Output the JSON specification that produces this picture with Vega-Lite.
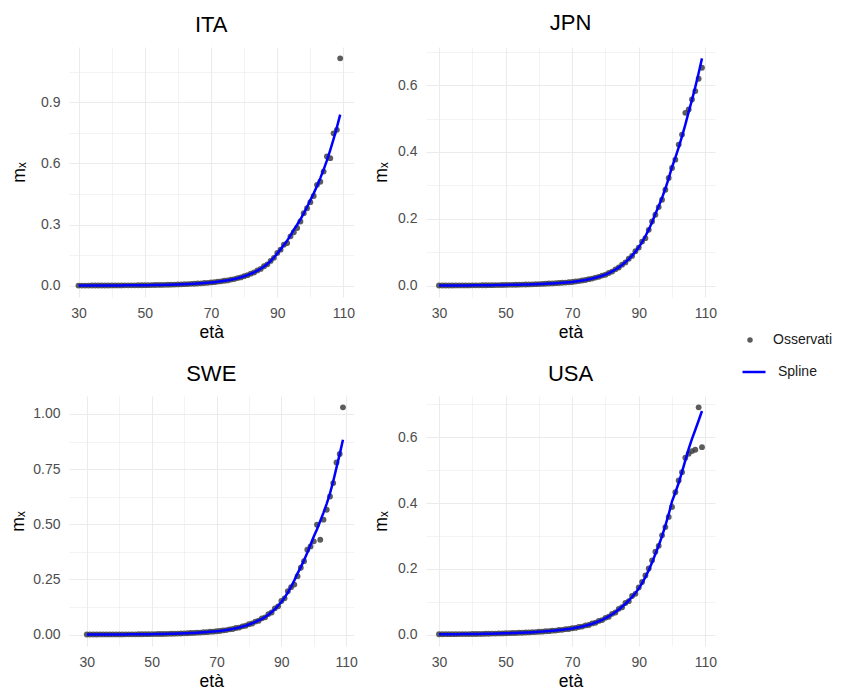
{
  "$schema": "https://vega.github.io/schema/vega-lite/v6.json",
  "padding": {"left": 9, "top": 11, "right": 5, "bottom": 0},
  "data": {"values": [
    {"paese":"ITA","eta":30,"osservati":0.00042,"spline":0.0004},
    {"paese":"ITA","eta":31,"osservati":0.0004,"spline":0.00042},
    {"paese":"ITA","eta":32,"osservati":0.00046,"spline":0.00045},
    {"paese":"ITA","eta":33,"osservati":0.00047,"spline":0.00048},
    {"paese":"ITA","eta":34,"osservati":0.00053,"spline":0.00052},
    {"paese":"ITA","eta":35,"osservati":0.00055,"spline":0.00056},
    {"paese":"ITA","eta":36,"osservati":0.00062,"spline":0.0006},
    {"paese":"ITA","eta":37,"osservati":0.00065,"spline":0.00066},
    {"paese":"ITA","eta":38,"osservati":0.00073,"spline":0.00072},
    {"paese":"ITA","eta":39,"osservati":0.00079,"spline":0.0008},
    {"paese":"ITA","eta":40,"osservati":0.0009,"spline":0.00088},
    {"paese":"ITA","eta":41,"osservati":0.00095,"spline":0.00097},
    {"paese":"ITA","eta":42,"osservati":0.00109,"spline":0.00107},
    {"paese":"ITA","eta":43,"osservati":0.00116,"spline":0.00118},
    {"paese":"ITA","eta":44,"osservati":0.00132,"spline":0.0013},
    {"paese":"ITA","eta":45,"osservati":0.00141,"spline":0.00143},
    {"paese":"ITA","eta":46,"osservati":0.0016,"spline":0.00157},
    {"paese":"ITA","eta":47,"osservati":0.0017,"spline":0.00173},
    {"paese":"ITA","eta":48,"osservati":0.00193,"spline":0.0019},
    {"paese":"ITA","eta":49,"osservati":0.00207,"spline":0.0021},
    {"paese":"ITA","eta":50,"osservati":0.00233,"spline":0.0023},
    {"paese":"ITA","eta":51,"osservati":0.00247,"spline":0.0025},
    {"paese":"ITA","eta":52,"osservati":0.00283,"spline":0.0028},
    {"paese":"ITA","eta":53,"osservati":0.00297,"spline":0.003},
    {"paese":"ITA","eta":54,"osservati":0.00335,"spline":0.0033},
    {"paese":"ITA","eta":55,"osservati":0.00356,"spline":0.0036},
    {"paese":"ITA","eta":56,"osservati":0.00405,"spline":0.004},
    {"paese":"ITA","eta":57,"osservati":0.00435,"spline":0.0044},
    {"paese":"ITA","eta":58,"osservati":0.00486,"spline":0.0048},
    {"paese":"ITA","eta":59,"osservati":0.00524,"spline":0.0053},
    {"paese":"ITA","eta":60,"osservati":0.00588,"spline":0.0058},
    {"paese":"ITA","eta":61,"osservati":0.00632,"spline":0.0064},
    {"paese":"ITA","eta":62,"osservati":0.0072,"spline":0.0071},
    {"paese":"ITA","eta":63,"osservati":0.00771,"spline":0.0078},
    {"paese":"ITA","eta":64,"osservati":0.00871,"spline":0.0086},
    {"paese":"ITA","eta":65,"osservati":0.00938,"spline":0.0095},
    {"paese":"ITA","eta":66,"osservati":0.01064,"spline":0.0105},
    {"paese":"ITA","eta":67,"osservati":0.01136,"spline":0.0115},
    {"paese":"ITA","eta":68,"osservati":0.01287,"spline":0.0127},
    {"paese":"ITA","eta":69,"osservati":0.01383,"spline":0.014},
    {"paese":"ITA","eta":70,"osservati":0.01571,"spline":0.0155},
    {"paese":"ITA","eta":71,"osservati":0.01699,"spline":0.0172},
    {"paese":"ITA","eta":72,"osservati":0.01936,"spline":0.0191},
    {"paese":"ITA","eta":73,"osservati":0.02096,"spline":0.0212},
    {"paese":"ITA","eta":74,"osservati":0.02382,"spline":0.0235},
    {"paese":"ITA","eta":75,"osservati":0.02571,"spline":0.026},
    {"paese":"ITA","eta":76,"osservati":0.02956,"spline":0.0292},
    {"paese":"ITA","eta":77,"osservati":0.03235,"spline":0.0327},
    {"paese":"ITA","eta":78,"osservati":0.03705,"spline":0.0366},
    {"paese":"ITA","eta":79,"osservati":0.04056,"spline":0.041},
    {"paese":"ITA","eta":80,"osservati":0.04652,"spline":0.046},
    {"paese":"ITA","eta":81,"osservati":0.05125,"spline":0.0518},
    {"paese":"ITA","eta":82,"osservati":0.05895,"spline":0.0583},
    {"paese":"ITA","eta":83,"osservati":0.06497,"spline":0.0656},
    {"paese":"ITA","eta":84,"osservati":0.07465,"spline":0.0738},
    {"paese":"ITA","eta":85,"osservati":0.0821,"spline":0.083},
    {"paese":"ITA","eta":86,"osservati":0.0951,"spline":0.094},
    {"paese":"ITA","eta":87,"osservati":0.1048,"spline":0.106},
    {"paese":"ITA","eta":88,"osservati":0.1214,"spline":0.12},
    {"paese":"ITA","eta":89,"osservati":0.1365,"spline":0.138},
    {"paese":"ITA","eta":90,"osservati":0.1602,"spline":0.158},
    {"paese":"ITA","eta":91,"osservati":0.1765,"spline":0.178},
    {"paese":"ITA","eta":92,"osservati":0.2012,"spline":0.199},
    {"paese":"ITA","eta":93,"osservati":0.209,"spline":0.221},
    {"paese":"ITA","eta":94,"osservati":0.242,"spline":0.247},
    {"paese":"ITA","eta":95,"osservati":0.262,"spline":0.275},
    {"paese":"ITA","eta":96,"osservati":0.283,"spline":0.299},
    {"paese":"ITA","eta":97,"osservati":0.315,"spline":0.326},
    {"paese":"ITA","eta":98,"osservati":0.356,"spline":0.355},
    {"paese":"ITA","eta":99,"osservati":0.38,"spline":0.386},
    {"paese":"ITA","eta":100,"osservati":0.41,"spline":0.42},
    {"paese":"ITA","eta":101,"osservati":0.44,"spline":0.453},
    {"paese":"ITA","eta":102,"osservati":0.495,"spline":0.489},
    {"paese":"ITA","eta":103,"osservati":0.51,"spline":0.528},
    {"paese":"ITA","eta":104,"osservati":0.56,"spline":0.57},
    {"paese":"ITA","eta":105,"osservati":0.634,"spline":0.615},
    {"paese":"ITA","eta":106,"osservati":0.626,"spline":0.665},
    {"paese":"ITA","eta":107,"osservati":0.748,"spline":0.719},
    {"paese":"ITA","eta":108,"osservati":0.765,"spline":0.777},
    {"paese":"ITA","eta":109,"osservati":1.116,"spline":0.84},
    {"paese":"JPN","eta":30,"osservati":0.00041,"spline":0.0004},
    {"paese":"JPN","eta":31,"osservati":0.00044,"spline":0.00043},
    {"paese":"JPN","eta":32,"osservati":0.00045,"spline":0.00046},
    {"paese":"JPN","eta":33,"osservati":0.0005,"spline":0.00049},
    {"paese":"JPN","eta":34,"osservati":0.00052,"spline":0.00053},
    {"paese":"JPN","eta":35,"osservati":0.00058,"spline":0.00057},
    {"paese":"JPN","eta":36,"osservati":0.0006,"spline":0.00061},
    {"paese":"JPN","eta":37,"osservati":0.00066,"spline":0.00065},
    {"paese":"JPN","eta":38,"osservati":0.00069,"spline":0.0007},
    {"paese":"JPN","eta":39,"osservati":0.00076,"spline":0.00075},
    {"paese":"JPN","eta":40,"osservati":0.00079,"spline":0.0008},
    {"paese":"JPN","eta":41,"osservati":0.00089,"spline":0.00088},
    {"paese":"JPN","eta":42,"osservati":0.00096,"spline":0.00097},
    {"paese":"JPN","eta":43,"osservati":0.00108,"spline":0.00107},
    {"paese":"JPN","eta":44,"osservati":0.00117,"spline":0.00118},
    {"paese":"JPN","eta":45,"osservati":0.00132,"spline":0.0013},
    {"paese":"JPN","eta":46,"osservati":0.00141,"spline":0.00143},
    {"paese":"JPN","eta":47,"osservati":0.00159,"spline":0.00157},
    {"paese":"JPN","eta":48,"osservati":0.00171,"spline":0.00173},
    {"paese":"JPN","eta":49,"osservati":0.00192,"spline":0.0019},
    {"paese":"JPN","eta":50,"osservati":0.00208,"spline":0.0021},
    {"paese":"JPN","eta":51,"osservati":0.00233,"spline":0.0023},
    {"paese":"JPN","eta":52,"osservati":0.00247,"spline":0.0025},
    {"paese":"JPN","eta":53,"osservati":0.00274,"spline":0.0027},
    {"paese":"JPN","eta":54,"osservati":0.00287,"spline":0.0029},
    {"paese":"JPN","eta":55,"osservati":0.00325,"spline":0.0032},
    {"paese":"JPN","eta":56,"osservati":0.00336,"spline":0.0034},
    {"paese":"JPN","eta":57,"osservati":0.00375,"spline":0.0037},
    {"paese":"JPN","eta":58,"osservati":0.00396,"spline":0.004},
    {"paese":"JPN","eta":59,"osservati":0.00446,"spline":0.0044},
    {"paese":"JPN","eta":60,"osservati":0.00475,"spline":0.0048},
    {"paese":"JPN","eta":61,"osservati":0.00527,"spline":0.0052},
    {"paese":"JPN","eta":62,"osservati":0.00563,"spline":0.0057},
    {"paese":"JPN","eta":63,"osservati":0.00628,"spline":0.0062},
    {"paese":"JPN","eta":64,"osservati":0.00662,"spline":0.0067},
    {"paese":"JPN","eta":65,"osservati":0.0074,"spline":0.0073},
    {"paese":"JPN","eta":66,"osservati":0.00781,"spline":0.0079},
    {"paese":"JPN","eta":67,"osservati":0.00871,"spline":0.0086},
    {"paese":"JPN","eta":68,"osservati":0.00921,"spline":0.0093},
    {"paese":"JPN","eta":69,"osservati":0.01023,"spline":0.0101},
    {"paese":"JPN","eta":70,"osservati":0.01088,"spline":0.011},
    {"paese":"JPN","eta":71,"osservati":0.01245,"spline":0.0123},
    {"paese":"JPN","eta":72,"osservati":0.01355,"spline":0.0137},
    {"paese":"JPN","eta":73,"osservati":0.01548,"spline":0.0153},
    {"paese":"JPN","eta":74,"osservati":0.01683,"spline":0.017},
    {"paese":"JPN","eta":75,"osservati":0.01924,"spline":0.019},
    {"paese":"JPN","eta":76,"osservati":0.02098,"spline":0.0212},
    {"paese":"JPN","eta":77,"osservati":0.02398,"spline":0.0237},
    {"paese":"JPN","eta":78,"osservati":0.02623,"spline":0.0265},
    {"paese":"JPN","eta":79,"osservati":0.02996,"spline":0.0296},
    {"paese":"JPN","eta":80,"osservati":0.03267,"spline":0.033},
    {"paese":"JPN","eta":81,"osservati":0.03785,"spline":0.0374},
    {"paese":"JPN","eta":82,"osservati":0.04206,"spline":0.0425},
    {"paese":"JPN","eta":83,"osservati":0.04877,"spline":0.0482},
    {"paese":"JPN","eta":84,"osservati":0.05415,"spline":0.0547},
    {"paese":"JPN","eta":85,"osservati":0.06274,"spline":0.062},
    {"paese":"JPN","eta":86,"osservati":0.06952,"spline":0.0702},
    {"paese":"JPN","eta":87,"osservati":0.08035,"spline":0.0794},
    {"paese":"JPN","eta":88,"osservati":0.08893,"spline":0.0898},
    {"paese":"JPN","eta":89,"osservati":0.1028,"spline":0.1016},
    {"paese":"JPN","eta":90,"osservati":0.1138,"spline":0.115},
    {"paese":"JPN","eta":91,"osservati":0.1318,"spline":0.1303},
    {"paese":"JPN","eta":92,"osservati":0.142,"spline":0.1477},
    {"paese":"JPN","eta":93,"osservati":0.167,"spline":0.1674},
    {"paese":"JPN","eta":94,"osservati":0.192,"spline":0.1897},
    {"paese":"JPN","eta":95,"osservati":0.212,"spline":0.215},
    {"paese":"JPN","eta":96,"osservati":0.235,"spline":0.2377},
    {"paese":"JPN","eta":97,"osservati":0.257,"spline":0.2628},
    {"paese":"JPN","eta":98,"osservati":0.287,"spline":0.2905},
    {"paese":"JPN","eta":99,"osservati":0.322,"spline":0.3211},
    {"paese":"JPN","eta":100,"osservati":0.352,"spline":0.355},
    {"paese":"JPN","eta":101,"osservati":0.377,"spline":0.383},
    {"paese":"JPN","eta":102,"osservati":0.422,"spline":0.4135},
    {"paese":"JPN","eta":103,"osservati":0.452,"spline":0.4464},
    {"paese":"JPN","eta":104,"osservati":0.517,"spline":0.4818},
    {"paese":"JPN","eta":105,"osservati":0.527,"spline":0.52},
    {"paese":"JPN","eta":106,"osservati":0.557,"spline":0.556},
    {"paese":"JPN","eta":107,"osservati":0.582,"spline":0.5947},
    {"paese":"JPN","eta":108,"osservati":0.619,"spline":0.636},
    {"paese":"JPN","eta":109,"osservati":0.652,"spline":0.68},
    {"paese":"SWE","eta":30,"osservati":0.00072,"spline":0.0007},
    {"paese":"SWE","eta":31,"osservati":0.00071,"spline":0.00073},
    {"paese":"SWE","eta":32,"osservati":0.00077,"spline":0.00075},
    {"paese":"SWE","eta":33,"osservati":0.00076,"spline":0.00078},
    {"paese":"SWE","eta":34,"osservati":0.00084,"spline":0.00081},
    {"paese":"SWE","eta":35,"osservati":0.00082,"spline":0.00084},
    {"paese":"SWE","eta":36,"osservati":0.0009,"spline":0.00087},
    {"paese":"SWE","eta":37,"osservati":0.00088,"spline":0.0009},
    {"paese":"SWE","eta":38,"osservati":0.00096,"spline":0.00093},
    {"paese":"SWE","eta":39,"osservati":0.00095,"spline":0.00097},
    {"paese":"SWE","eta":40,"osservati":0.00103,"spline":0.001},
    {"paese":"SWE","eta":41,"osservati":0.00106,"spline":0.00109},
    {"paese":"SWE","eta":42,"osservati":0.00122,"spline":0.00118},
    {"paese":"SWE","eta":43,"osservati":0.00125,"spline":0.00128},
    {"paese":"SWE","eta":44,"osservati":0.00143,"spline":0.00139},
    {"paese":"SWE","eta":45,"osservati":0.00148,"spline":0.00152},
    {"paese":"SWE","eta":46,"osservati":0.0017,"spline":0.00165},
    {"paese":"SWE","eta":47,"osservati":0.00175,"spline":0.00179},
    {"paese":"SWE","eta":48,"osservati":0.002,"spline":0.00195},
    {"paese":"SWE","eta":49,"osservati":0.00207,"spline":0.00212},
    {"paese":"SWE","eta":50,"osservati":0.00237,"spline":0.0023},
    {"paese":"SWE","eta":51,"osservati":0.00244,"spline":0.0025},
    {"paese":"SWE","eta":52,"osservati":0.00288,"spline":0.0028},
    {"paese":"SWE","eta":53,"osservati":0.00294,"spline":0.003},
    {"paese":"SWE","eta":54,"osservati":0.0034,"spline":0.0033},
    {"paese":"SWE","eta":55,"osservati":0.00362,"spline":0.0037},
    {"paese":"SWE","eta":56,"osservati":0.00412,"spline":0.004},
    {"paese":"SWE","eta":57,"osservati":0.00431,"spline":0.0044},
    {"paese":"SWE","eta":58,"osservati":0.00494,"spline":0.0048},
    {"paese":"SWE","eta":59,"osservati":0.00519,"spline":0.0053},
    {"paese":"SWE","eta":60,"osservati":0.00597,"spline":0.0058},
    {"paese":"SWE","eta":61,"osservati":0.00627,"spline":0.0064},
    {"paese":"SWE","eta":62,"osservati":0.00731,"spline":0.0071},
    {"paese":"SWE","eta":63,"osservati":0.00764,"spline":0.0078},
    {"paese":"SWE","eta":64,"osservati":0.00886,"spline":0.0086},
    {"paese":"SWE","eta":65,"osservati":0.00931,"spline":0.0095},
    {"paese":"SWE","eta":66,"osservati":0.01082,"spline":0.0105},
    {"paese":"SWE","eta":67,"osservati":0.01127,"spline":0.0115},
    {"paese":"SWE","eta":68,"osservati":0.01308,"spline":0.0127},
    {"paese":"SWE","eta":69,"osservati":0.01343,"spline":0.0137},
    {"paese":"SWE","eta":70,"osservati":0.01545,"spline":0.015},
    {"paese":"SWE","eta":71,"osservati":0.01637,"spline":0.0167},
    {"paese":"SWE","eta":72,"osservati":0.01916,"spline":0.0186},
    {"paese":"SWE","eta":73,"osservati":0.02048,"spline":0.0209},
    {"paese":"SWE","eta":74,"osservati":0.024,"spline":0.0233},
    {"paese":"SWE","eta":75,"osservati":0.02548,"spline":0.026},
    {"paese":"SWE","eta":76,"osservati":0.03008,"spline":0.0292},
    {"paese":"SWE","eta":77,"osservati":0.03205,"spline":0.0327},
    {"paese":"SWE","eta":78,"osservati":0.0377,"spline":0.0366},
    {"paese":"SWE","eta":79,"osservati":0.04018,"spline":0.041},
    {"paese":"SWE","eta":80,"osservati":0.04738,"spline":0.046},
    {"paese":"SWE","eta":81,"osservati":0.05037,"spline":0.0514},
    {"paese":"SWE","eta":82,"osservati":0.05912,"spline":0.0574},
    {"paese":"SWE","eta":83,"osservati":0.06282,"spline":0.0641},
    {"paese":"SWE","eta":84,"osservati":0.07375,"spline":0.0716},
    {"paese":"SWE","eta":85,"osservati":0.0784,"spline":0.08},
    {"paese":"SWE","eta":86,"osservati":0.0932,"spline":0.0905},
    {"paese":"SWE","eta":87,"osservati":0.1003,"spline":0.1024},
    {"paese":"SWE","eta":88,"osservati":0.1193,"spline":0.1158},
    {"paese":"SWE","eta":89,"osservati":0.1284,"spline":0.131},
    {"paese":"SWE","eta":90,"osservati":0.1524,"spline":0.148},
    {"paese":"SWE","eta":91,"osservati":0.1646,"spline":0.168},
    {"paese":"SWE","eta":92,"osservati":0.1967,"spline":0.191},
    {"paese":"SWE","eta":93,"osservati":0.215,"spline":0.217},
    {"paese":"SWE","eta":94,"osservati":0.227,"spline":0.246},
    {"paese":"SWE","eta":95,"osservati":0.265,"spline":0.278},
    {"paese":"SWE","eta":96,"osservati":0.303,"spline":0.306},
    {"paese":"SWE","eta":97,"osservati":0.333,"spline":0.337},
    {"paese":"SWE","eta":98,"osservati":0.385,"spline":0.371},
    {"paese":"SWE","eta":99,"osservati":0.4,"spline":0.407},
    {"paese":"SWE","eta":100,"osservati":0.423,"spline":0.445},
    {"paese":"SWE","eta":101,"osservati":0.498,"spline":0.478},
    {"paese":"SWE","eta":102,"osservati":0.43,"spline":0.515},
    {"paese":"SWE","eta":103,"osservati":0.521,"spline":0.553},
    {"paese":"SWE","eta":104,"osservati":0.566,"spline":0.594},
    {"paese":"SWE","eta":105,"osservati":0.626,"spline":0.64},
    {"paese":"SWE","eta":106,"osservati":0.687,"spline":0.695},
    {"paese":"SWE","eta":107,"osservati":0.78,"spline":0.757},
    {"paese":"SWE","eta":108,"osservati":0.819,"spline":0.818},
    {"paese":"SWE","eta":109,"osservati":1.03,"spline":0.883},
    {"paese":"USA","eta":30,"osservati":0.00125,"spline":0.0012},
    {"paese":"USA","eta":31,"osservati":0.00123,"spline":0.00126},
    {"paese":"USA","eta":32,"osservati":0.00136,"spline":0.00132},
    {"paese":"USA","eta":33,"osservati":0.00135,"spline":0.00138},
    {"paese":"USA","eta":34,"osservati":0.00148,"spline":0.00144},
    {"paese":"USA","eta":35,"osservati":0.00148,"spline":0.00151},
    {"paese":"USA","eta":36,"osservati":0.00162,"spline":0.00158},
    {"paese":"USA","eta":37,"osservati":0.00163,"spline":0.00166},
    {"paese":"USA","eta":38,"osservati":0.00177,"spline":0.00173},
    {"paese":"USA","eta":39,"osservati":0.00179,"spline":0.00182},
    {"paese":"USA","eta":40,"osservati":0.00195,"spline":0.0019},
    {"paese":"USA","eta":41,"osservati":0.00202,"spline":0.00206},
    {"paese":"USA","eta":42,"osservati":0.00229,"spline":0.00223},
    {"paese":"USA","eta":43,"osservati":0.00236,"spline":0.00241},
    {"paese":"USA","eta":44,"osservati":0.00268,"spline":0.00261},
    {"paese":"USA","eta":45,"osservati":0.00277,"spline":0.00283},
    {"paese":"USA","eta":46,"osservati":0.00314,"spline":0.00306},
    {"paese":"USA","eta":47,"osservati":0.00326,"spline":0.00332},
    {"paese":"USA","eta":48,"osservati":0.00368,"spline":0.00359},
    {"paese":"USA","eta":49,"osservati":0.00382,"spline":0.00389},
    {"paese":"USA","eta":50,"osservati":0.0043,"spline":0.0042},
    {"paese":"USA","eta":51,"osservati":0.0044,"spline":0.0045},
    {"paese":"USA","eta":52,"osservati":0.00492,"spline":0.0048},
    {"paese":"USA","eta":53,"osservati":0.0051,"spline":0.0052},
    {"paese":"USA","eta":54,"osservati":0.00574,"spline":0.0056},
    {"paese":"USA","eta":55,"osservati":0.00588,"spline":0.006},
    {"paese":"USA","eta":56,"osservati":0.00656,"spline":0.0064},
    {"paese":"USA","eta":57,"osservati":0.00677,"spline":0.0069},
    {"paese":"USA","eta":58,"osservati":0.00758,"spline":0.0074},
    {"paese":"USA","eta":59,"osservati":0.00775,"spline":0.0079},
    {"paese":"USA","eta":60,"osservati":0.00871,"spline":0.0085},
    {"paese":"USA","eta":61,"osservati":0.00902,"spline":0.0092},
    {"paese":"USA","eta":62,"osservati":0.01025,"spline":0.01},
    {"paese":"USA","eta":63,"osservati":0.01059,"spline":0.0108},
    {"paese":"USA","eta":64,"osservati":0.01199,"spline":0.0117},
    {"paese":"USA","eta":65,"osservati":0.01245,"spline":0.0127},
    {"paese":"USA","eta":66,"osservati":0.01414,"spline":0.0138},
    {"paese":"USA","eta":67,"osservati":0.01461,"spline":0.0149},
    {"paese":"USA","eta":68,"osservati":0.0166,"spline":0.0162},
    {"paese":"USA","eta":69,"osservati":0.01715,"spline":0.0175},
    {"paese":"USA","eta":70,"osservati":0.01947,"spline":0.019},
    {"paese":"USA","eta":71,"osservati":0.02038,"spline":0.0208},
    {"paese":"USA","eta":72,"osservati":0.02337,"spline":0.0228},
    {"paese":"USA","eta":73,"osservati":0.0245,"spline":0.025},
    {"paese":"USA","eta":74,"osservati":0.02808,"spline":0.0274},
    {"paese":"USA","eta":75,"osservati":0.0294,"spline":0.03},
    {"paese":"USA","eta":76,"osservati":0.03403,"spline":0.0332},
    {"paese":"USA","eta":77,"osservati":0.03606,"spline":0.0368},
    {"paese":"USA","eta":78,"osservati":0.04182,"spline":0.0408},
    {"paese":"USA","eta":79,"osservati":0.0442,"spline":0.0451},
    {"paese":"USA","eta":80,"osservati":0.05125,"spline":0.05},
    {"paese":"USA","eta":81,"osservati":0.05449,"spline":0.0556},
    {"paese":"USA","eta":82,"osservati":0.06334,"spline":0.0618},
    {"paese":"USA","eta":83,"osservati":0.06742,"spline":0.0688},
    {"paese":"USA","eta":84,"osservati":0.07841,"spline":0.0765},
    {"paese":"USA","eta":85,"osservati":0.0833,"spline":0.085},
    {"paese":"USA","eta":86,"osservati":0.09625,"spline":0.0939},
    {"paese":"USA","eta":87,"osservati":0.1017,"spline":0.1038},
    {"paese":"USA","eta":88,"osservati":0.1176,"spline":0.1147},
    {"paese":"USA","eta":89,"osservati":0.1242,"spline":0.1267},
    {"paese":"USA","eta":90,"osservati":0.1435,"spline":0.14},
    {"paese":"USA","eta":91,"osservati":0.16,"spline":0.1566},
    {"paese":"USA","eta":92,"osservati":0.18,"spline":0.1751},
    {"paese":"USA","eta":93,"osservati":0.201,"spline":0.1959},
    {"paese":"USA","eta":94,"osservati":0.226,"spline":0.219},
    {"paese":"USA","eta":95,"osservati":0.252,"spline":0.245},
    {"paese":"USA","eta":96,"osservati":0.27,"spline":0.2709},
    {"paese":"USA","eta":97,"osservati":0.302,"spline":0.2995},
    {"paese":"USA","eta":98,"osservati":0.327,"spline":0.3312},
    {"paese":"USA","eta":99,"osservati":0.358,"spline":0.3662},
    {"paese":"USA","eta":100,"osservati":0.388,"spline":0.405},
    {"paese":"USA","eta":101,"osservati":0.433,"spline":0.4321},
    {"paese":"USA","eta":102,"osservati":0.469,"spline":0.461},
    {"paese":"USA","eta":103,"osservati":0.494,"spline":0.495},
    {"paese":"USA","eta":104,"osservati":0.538,"spline":0.53},
    {"paese":"USA","eta":105,"osservati":0.55,"spline":0.565},
    {"paese":"USA","eta":106,"osservati":0.558,"spline":0.595},
    {"paese":"USA","eta":107,"osservati":0.562,"spline":0.623},
    {"paese":"USA","eta":108,"osservati":0.691,"spline":0.651},
    {"paese":"USA","eta":109,"osservati":0.57,"spline":0.68}
  ]},
  "columns": 2,
  "spacing": {"row": 22, "column": 14},
  "concat": [
    {
      "title": {"text": "ITA"},
      "width": 284.5, "height": 250,
      "transform": [{"filter": "datum.paese === 'ITA'"}],
      "encoding": {"x": {"field": "eta", "type": "quantitative", "scale": {"domain": [27.13, 113.02], "nice": false, "zero": false}, "axis": {"title": "età", "values": [30,40,50,60,70,80,90,100,110], "format": "d", "labelExpr": "datum.value % 20 == 0 ? '' : datum.label", "gridWidth": {"condition": {"test": "datum.value % 20 == 0", "value": 0.6}, "value": 1.1}}}},
      "layer": [
        {"mark": {"type": "point", "filled": true, "size": 34, "opacity": 0.85},
         "encoding": {
           "y": {"field": "osservati", "type": "quantitative", "scale": {"domain": [-0.0558, 1.1718], "nice": false, "zero": false}, "axis": {"title": "mₓ", "titlePadding": 12, "values": [0,0.15,0.3,0.45,0.6,0.75,0.9,1.05], "format": ".1f", "labelExpr": "indexof([0.15,0.45,0.75,1.05], datum.value) >= 0 ? '' : datum.label", "gridWidth": {"condition": {"test": "indexof([0.15,0.45,0.75,1.05], datum.value) >= 0", "value": 0.6}, "value": 1.1}}},
           "fill": {"datum": "Osservati", "scale": {"domain": ["Osservati"], "range": ["#404040"]}, "legend": {"title": null, "orient": "none", "legendX": 674, "legendY": 286, "padding": 0, "symbolType": "circle", "symbolSize": 30, "labelOffset": 16}}
         }},
        {"mark": {"type": "line", "strokeWidth": 2.5},
         "encoding": {
           "y": {"field": "spline", "type": "quantitative", "scale": {"domain": [-0.0558, 1.1718], "nice": false, "zero": false}, "axis": {"title": "mₓ", "titlePadding": 12, "values": [0,0.15,0.3,0.45,0.6,0.75,0.9,1.05], "format": ".1f", "labelExpr": "indexof([0.15,0.45,0.75,1.05], datum.value) >= 0 ? '' : datum.label", "gridWidth": {"condition": {"test": "indexof([0.15,0.45,0.75,1.05], datum.value) >= 0", "value": 0.6}, "value": 1.1}}},
           "stroke": {"datum": "Spline", "scale": {"domain": ["Spline"], "range": ["#0000FF"]}, "legend": {"title": null, "orient": "none", "legendX": 672, "legendY": 312, "padding": 0, "symbolType": "stroke", "symbolSize": 529, "symbolStrokeWidth": 2.5, "labelOffset": 11}}
         }}
      ]
    },
    {
      "title": {"text": "JPN"},
      "width": 289, "height": 250,
      "transform": [{"filter": "datum.paese === 'JPN'"}],
      "encoding": {"x": {"field": "eta", "type": "quantitative", "scale": {"domain": [26.095, 112.91], "nice": false, "zero": false}, "axis": {"title": "età", "values": [30,40,50,60,70,80,90,100,110], "format": "d", "labelExpr": "datum.value % 20 == 0 ? '' : datum.label", "gridWidth": {"condition": {"test": "datum.value % 20 == 0", "value": 0.6}, "value": 1.1}}}},
      "layer": [
        {"mark": {"type": "point", "filled": true, "size": 34, "opacity": 0.85},
         "encoding": {
           "y": {"field": "osservati", "type": "quantitative", "scale": {"domain": [-0.034, 0.714], "nice": false, "zero": false}, "axis": {"title": "mₓ", "titlePadding": 7.5, "values": [0,0.1,0.2,0.3,0.4,0.5,0.6,0.7], "format": ".1f", "labelExpr": "indexof([0.1,0.3,0.5,0.7], datum.value) >= 0 ? '' : datum.label", "gridWidth": {"condition": {"test": "indexof([0.1,0.3,0.5,0.7], datum.value) >= 0", "value": 0.6}, "value": 1.1}}},
           "fill": {"datum": "Osservati", "scale": {"domain": ["Osservati"], "range": ["#404040"]}, "legend": {"title": null, "orient": "none", "legendX": 674, "legendY": 286, "padding": 0, "symbolType": "circle", "symbolSize": 30, "labelOffset": 16}}
         }},
        {"mark": {"type": "line", "strokeWidth": 2.5},
         "encoding": {
           "y": {"field": "spline", "type": "quantitative", "scale": {"domain": [-0.034, 0.714], "nice": false, "zero": false}, "axis": {"title": "mₓ", "titlePadding": 7.5, "values": [0,0.1,0.2,0.3,0.4,0.5,0.6,0.7], "format": ".1f", "labelExpr": "indexof([0.1,0.3,0.5,0.7], datum.value) >= 0 ? '' : datum.label", "gridWidth": {"condition": {"test": "indexof([0.1,0.3,0.5,0.7], datum.value) >= 0", "value": 0.6}, "value": 1.1}}},
           "stroke": {"datum": "Spline", "scale": {"domain": ["Spline"], "range": ["#0000FF"]}, "legend": {"title": null, "orient": "none", "legendX": 672, "legendY": 312, "padding": 0, "symbolType": "stroke", "symbolSize": 529, "symbolStrokeWidth": 2.5, "labelOffset": 11}}
         }}
      ]
    },
    {
      "title": {"text": "SWE"},
      "width": 284.5, "height": 250,
      "transform": [{"filter": "datum.paese === 'SWE'"}],
      "encoding": {"x": {"field": "eta", "type": "quantitative", "scale": {"domain": [24.51, 112.25], "nice": false, "zero": false}, "axis": {"title": "età", "values": [30,40,50,60,70,80,90,100,110], "format": "d", "labelExpr": "datum.value % 20 == 0 ? '' : datum.label", "gridWidth": {"condition": {"test": "datum.value % 20 == 0", "value": 0.6}, "value": 1.1}}}},
      "layer": [
        {"mark": {"type": "point", "filled": true, "size": 34, "opacity": 0.85},
         "encoding": {
           "y": {"field": "osservati", "type": "quantitative", "scale": {"domain": [-0.0515, 1.0815], "nice": false, "zero": false}, "axis": {"title": "mₓ", "titlePadding": 5.5, "values": [0,0.125,0.25,0.375,0.5,0.625,0.75,0.875,1], "format": ".2f", "labelExpr": "indexof([0.125,0.375,0.625,0.875], datum.value) >= 0 ? '' : datum.label", "gridWidth": {"condition": {"test": "indexof([0.125,0.375,0.625,0.875], datum.value) >= 0", "value": 0.6}, "value": 1.1}}},
           "fill": {"datum": "Osservati", "scale": {"domain": ["Osservati"], "range": ["#404040"]}, "legend": {"title": null, "orient": "none", "legendX": 674, "legendY": 286, "padding": 0, "symbolType": "circle", "symbolSize": 30, "labelOffset": 16}}
         }},
        {"mark": {"type": "line", "strokeWidth": 2.5},
         "encoding": {
           "y": {"field": "spline", "type": "quantitative", "scale": {"domain": [-0.0515, 1.0815], "nice": false, "zero": false}, "axis": {"title": "mₓ", "titlePadding": 5.5, "values": [0,0.125,0.25,0.375,0.5,0.625,0.75,0.875,1], "format": ".2f", "labelExpr": "indexof([0.125,0.375,0.625,0.875], datum.value) >= 0 ? '' : datum.label", "gridWidth": {"condition": {"test": "indexof([0.125,0.375,0.625,0.875], datum.value) >= 0", "value": 0.6}, "value": 1.1}}},
           "stroke": {"datum": "Spline", "scale": {"domain": ["Spline"], "range": ["#0000FF"]}, "legend": {"title": null, "orient": "none", "legendX": 672, "legendY": 312, "padding": 0, "symbolType": "stroke", "symbolSize": 529, "symbolStrokeWidth": 2.5, "labelOffset": 11}}
         }}
      ]
    },
    {
      "title": {"text": "USA"},
      "width": 289, "height": 250,
      "transform": [{"filter": "datum.paese === 'USA'"}],
      "encoding": {"x": {"field": "eta", "type": "quantitative", "scale": {"domain": [26.095, 112.91], "nice": false, "zero": false}, "axis": {"title": "età", "values": [30,40,50,60,70,80,90,100,110], "format": "d", "labelExpr": "datum.value % 20 == 0 ? '' : datum.label", "gridWidth": {"condition": {"test": "datum.value % 20 == 0", "value": 0.6}, "value": 1.1}}}},
      "layer": [
        {"mark": {"type": "point", "filled": true, "size": 34, "opacity": 0.85},
         "encoding": {
           "y": {"field": "osservati", "type": "quantitative", "scale": {"domain": [-0.0345, 0.7255], "nice": false, "zero": false}, "axis": {"title": "mₓ", "titlePadding": 7.5, "values": [0,0.1,0.2,0.3,0.4,0.5,0.6,0.7], "format": ".1f", "labelExpr": "indexof([0.1,0.3,0.5,0.7], datum.value) >= 0 ? '' : datum.label", "gridWidth": {"condition": {"test": "indexof([0.1,0.3,0.5,0.7], datum.value) >= 0", "value": 0.6}, "value": 1.1}}},
           "fill": {"datum": "Osservati", "scale": {"domain": ["Osservati"], "range": ["#404040"]}, "legend": {"title": null, "orient": "none", "legendX": 674, "legendY": 286, "padding": 0, "symbolType": "circle", "symbolSize": 30, "labelOffset": 16}}
         }},
        {"mark": {"type": "line", "strokeWidth": 2.5},
         "encoding": {
           "y": {"field": "spline", "type": "quantitative", "scale": {"domain": [-0.0345, 0.7255], "nice": false, "zero": false}, "axis": {"title": "mₓ", "titlePadding": 7.5, "values": [0,0.1,0.2,0.3,0.4,0.5,0.6,0.7], "format": ".1f", "labelExpr": "indexof([0.1,0.3,0.5,0.7], datum.value) >= 0 ? '' : datum.label", "gridWidth": {"condition": {"test": "indexof([0.1,0.3,0.5,0.7], datum.value) >= 0", "value": 0.6}, "value": 1.1}}},
           "stroke": {"datum": "Spline", "scale": {"domain": ["Spline"], "range": ["#0000FF"]}, "legend": {"title": null, "orient": "none", "legendX": 672, "legendY": 312, "padding": 0, "symbolType": "stroke", "symbolSize": 529, "symbolStrokeWidth": 2.5, "labelOffset": 11}}
         }}
      ]
    }
  ],
  "config": {
    "font": "Liberation Sans",
    "view": {"stroke": null},
    "axis": {"domain": false, "ticks": false, "grid": true, "gridColor": "#EBEBEB", "labelFont": "Liberation Sans", "labelFontSize": 14, "labelColor": "#4D4D4D", "labelPadding": 9, "labelOverlap": false, "labelFlush": false, "titleFont": "Liberation Sans", "titleFontSize": 17.5, "titleFontWeight": "normal", "titleColor": "#000000", "titlePadding": 3},
    "title": {"font": "Liberation Sans", "fontSize": 22, "fontWeight": "normal", "color": "#000000", "anchor": "middle", "frame": "group", "offset": 10},
    "legend": {"labelFont": "Liberation Sans", "labelFontSize": 14, "labelColor": "#1A1A1A"}
  }
}
